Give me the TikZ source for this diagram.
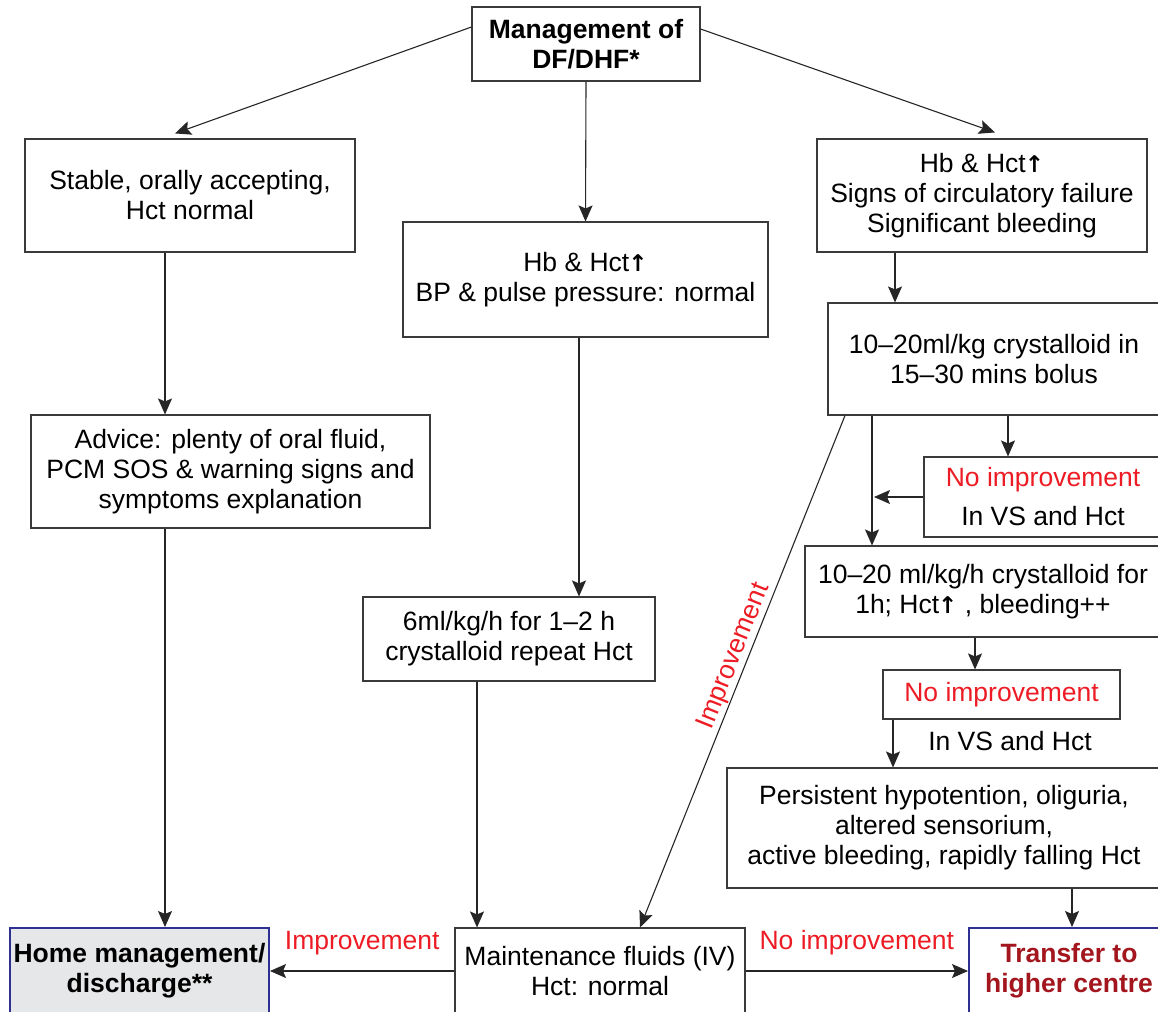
\documentclass[tikz,border=0pt]{standalone}
\usepackage{fontspec}
\setmainfont{Liberation Sans}
\newfontfamily\arrowfont{DejaVu Sans}
\usepackage{xcolor}
\usetikzlibrary{arrows.meta,calc}

\definecolor{boxline}{HTML}{3A3A3A}
\definecolor{noimp}{HTML}{ED1C24}
\definecolor{darkred}{HTML}{A3161E}
\definecolor{navy}{HTML}{2E3192}
\definecolor{homegray}{HTML}{E6E7E8}

\newcommand{\hctup}{{\arrowfont\bfseries\fontsize{23}{23}\selectfont\kern-1pt↑}}

\begin{document}
\fontsize{26.5}{30}\selectfont
\begin{tikzpicture}[x=1pt,y=-1pt,
    box/.style={draw=boxline, line width=1.1pt, align=center, inner sep=0pt},
    endbox/.style={draw=navy, line width=2pt, align=center, inner sep=0pt, font=\bfseries},
    arr/.style={draw=black!85, line width=1.1pt, -{Stealth[length=16pt,width=14pt,inset=3pt]}},
    redlbl/.style={text=noimp, inner sep=1pt}]
        \useasboundingbox (0,0) rectangle (1158,1011);

        % Top
        \node[box, font=\bfseries, minimum width=228pt, minimum height=74pt] (top) at (586,44) {Management of\\DF/DHF*};

        % Left column
        \node[box, minimum width=330pt, minimum height=113pt] (stable) at (190,195.5) {Stable, orally accepting,\\Hct normal};
        \node[box, minimum width=399pt, minimum height=113pt] (advice) at (230.5,471.5) {Advice: plenty of oral fluid,\\PCM SOS \& warning signs and\\symptoms explanation};

        % Middle column
        \node[box, minimum width=365pt, minimum height=115pt] (mid) at (585.5,279.5) {Hb \& Hct\hctup\\BP \& pulse pressure: normal};
        \node[box, minimum width=292pt, minimum height=84pt] (sixml) at (509,639) {6ml/kg/h for 1–2 h\\crystalloid repeat Hct};

        % Right column
        \node[box, minimum width=330pt, minimum height=113pt] (rtop) at (982,195.5) {Hb \& Hct\hctup\\Signs of circulatory failure\\Significant bleeding};
        \node[box, minimum width=332pt, minimum height=112pt] (bolus) at (994,359) {10–20ml/kg crystalloid in\\15–30 mins bolus};
        \node[box, minimum width=238pt, minimum height=80pt] (noimp1) at (1043,497) {\textcolor{noimp}{No improvement}\\[9pt]In VS and Hct};
        \node[box, minimum width=356pt, minimum height=91pt] (hour) at (983,591.5) {10–20 ml/kg/h crystalloid for\\1h; Hct\hctup\ , bleeding++};
        \node[box, text=noimp, minimum width=237pt, minimum height=49pt] (noimp2) at (1001.5,694.5) {No improvement};
        \node (vs) at (1010,741) {In VS and Hct};
        \node[box, minimum width=434pt, minimum height=120pt] (persist) at (944,828) {Persistent hypotention, oliguria,\\altered sensorium,\\active bleeding, rapidly falling Hct};

        % Bottom row
        \node[endbox, fill=homegray, minimum width=259pt, minimum height=86pt] (home) at (139.5,971) {Home management/\\discharge**};
        \node[box, minimum width=290pt, minimum height=86pt] (maint) at (600,971) {Maintenance fluids (IV)\\Hct: normal};
        \node[endbox, text=darkred, minimum width=200pt, minimum height=86pt] (transfer) at (1069,971) {Transfer to\\higher centre};

        % Lanes for vertical arrows
        \coordinate (lA) at (165,0);
        \coordinate (lB) at (579,0);
        \coordinate (lC) at (477,0);
        \coordinate (lD) at (895,0);
        \coordinate (lE) at (1008,0);
        \coordinate (lF) at (872,0);
        \coordinate (lG) at (975,0);
        \coordinate (lH) at (893,0);
        \coordinate (lI) at (1072,0);
        \coordinate (lJ) at (845,0);
        \coordinate (lK) at (640,0);

        % Arrows from the top
        \draw[arr] ([yshift=17pt]top.west) -- ([xshift=-15pt,yshift=5pt]stable.north);
        \draw[arr] (top.south) -- (mid.north);
        \draw[arr] ([yshift=15pt]top.east) -- ([xshift=13pt,yshift=6pt]rtop.north);

        % Left and middle
        \draw[arr] (stable.south -| lA) -- (advice.north -| lA);
        \draw[arr] (advice.south -| lA) -- (home.north -| lA);
        \draw[arr] (mid.south -| lB) -- (sixml.north -| lB);
        \draw[arr] (sixml.south -| lC) -- (maint.north -| lC);

        % Right
        \draw[arr] (rtop.south -| lD) -- (bolus.north -| lD);
        \draw[arr] (bolus.south -| lE) -- (noimp1.north -| lE);
        \draw[arr] (bolus.south -| lF) -- (hour.north -| lF);
        \draw[arr, shorten >=2pt] (noimp1.west) -- (noimp1.west -| lF);
        \draw[arr] (hour.south -| lG) -- (noimp2.north -| lG);
        \draw[arr] (noimp2.south -| lH) -- (persist.north -| lH);
        \draw[arr] (persist.south -| lI) -- (transfer.north -| lI);
        \draw[arr] (bolus.south -| lJ) -- (maint.north -| lK) node[redlbl, pos=0.48, sloped, above] {Improvement};

        % Bottom
        \draw[arr] (maint.west) -- (home.east) node[redlbl, midway, above=14pt] {Improvement};
        \draw[arr] (maint.east) -- (transfer.west) node[redlbl, midway, above=14pt] {No improvement};
\end{tikzpicture}
\end{document}
